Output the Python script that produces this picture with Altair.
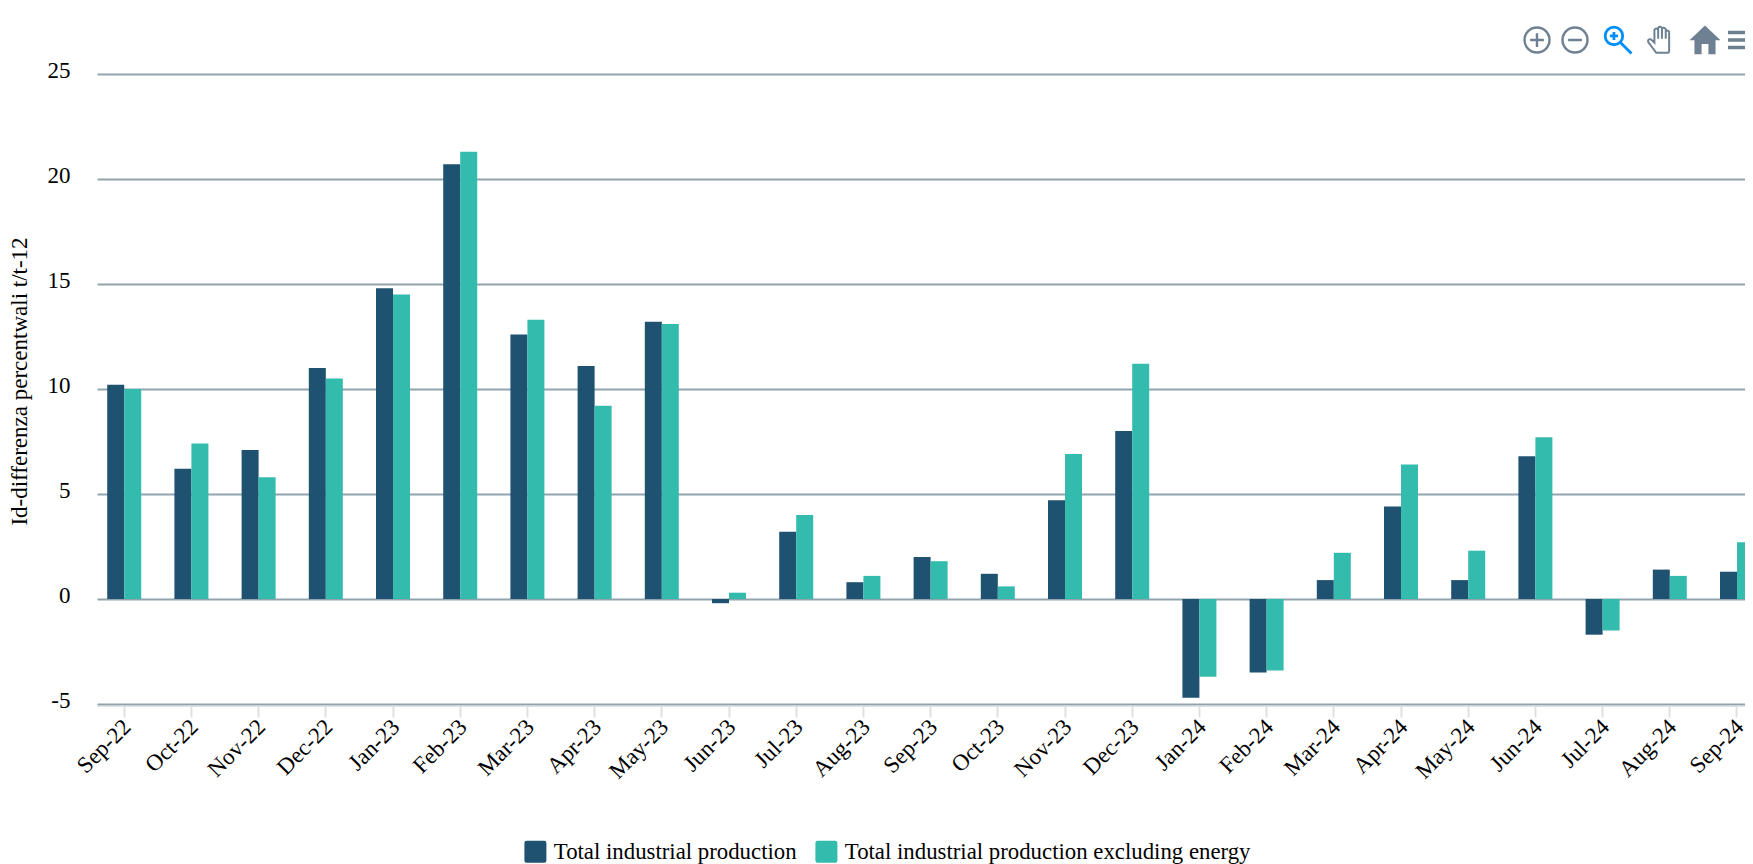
import altair as alt
import pandas as pd

months = ["Sep-22","Oct-22","Nov-22","Dec-22","Jan-23","Feb-23","Mar-23","Apr-23","May-23","Jun-23","Jul-23","Aug-23",
          "Sep-23","Oct-23","Nov-23","Dec-23","Jan-24","Feb-24","Mar-24","Apr-24","May-24","Jun-24","Jul-24","Aug-24","Sep-24"]
total = [10.2,6.2,7.1,11.0,14.8,20.7,12.6,11.1,13.2,-0.2,3.2,0.8,2.0,1.2,4.7,8.0,-4.7,-3.5,0.9,4.4,0.9,6.8,-1.7,1.4,1.3]
excl = [10.0,7.4,5.8,10.5,14.5,21.3,13.3,9.2,13.1,0.3,4.0,1.1,1.8,0.6,6.9,11.2,-3.7,-3.4,2.2,6.4,2.3,7.7,-1.5,1.1,2.7]
series = ["Total industrial production", "Total industrial production excluding energy"]
colors = ["#1F5270", "#33BBAD"]
y_ticks = [-5, 0, 5, 10, 15, 20, 25]

rows = []
for m, a, b in zip(months, total, excl):
    rows.append({"month": m, "series": series[0], "value": a})
    rows.append({"month": m, "series": series[1], "value": b})
df = pd.DataFrame(rows)

FONT = "Liberation Serif"
FS = 23
rounded = "M-0.8,-1 L0.8,-1 Q1,-1 1,-0.8 L1,0.8 Q1,1 0.8,1 L-0.8,1 Q-1,1 -1,0.8 L-1,-0.8 Q-1,-1 -0.8,-1 Z"

bars = alt.Chart(df).mark_bar().encode(
    x=alt.X("month:N", sort=months, title=None,
            scale=alt.Scale(paddingInner=0.494, paddingOuter=0.076, align=1, range=[0, 1657]),
            axis=alt.Axis(labelAngle=-45, labelAlign="right", labelBaseline="middle", labelFont=FONT,
                          labelFontSize=FS, labelColor="#000000", labelPadding=6, labelOffset=3, labelOverlap=False,
                          tickColor="#e0e0e0", tickWidth=2, tickSize=11, domainColor="#e0e0e0",
                          domainWidth=1, offset=2, grid=False)),
    xOffset=alt.XOffset("series:N", sort=series, scale=alt.Scale(paddingInner=0, paddingOuter=0)),
    y=alt.Y("value:Q", title="Id-differenza percentwali t/t-12",
            scale=alt.Scale(domain=[-5, 25], nice=False, zero=False),
            axis=alt.Axis(values=y_ticks, labelExpr="'' + datum.value", labelFont=FONT, labelFontSize=FS, labelColor="#000000",
                          labelPadding=27, labelOffset=-4, ticks=False, domain=False,
                          grid=True, gridColor="#90A4AE", gridWidth=2,
                          titleFont=FONT, titleFontSize=23, titleFontWeight="normal", titleColor="#000000",
                          titleBaseline="alphabetic", titleX=-71, titleY=307)),
    color=alt.Color("series:N", sort=series, scale=alt.Scale(domain=series, range=colors),
                    legend=alt.Legend(title=None, orient="none", legendX=427, legendY=766, direction="horizontal",
                                      symbolType=rounded, symbolSize=484, symbolStrokeWidth=0,
                                      labelFont=FONT, labelFontSize=22.8, labelColor="#000000",
                                      labelOffset=7, columnPadding=18, labelLimit=600)),
)

GREY = "#6E8192"
plus = "M-1,0 A1,1 0 1,1 1,0 A1,1 0 1,1 -1,0 Z M-0.55,0 L0.55,0 M0,-0.55 L0,0.55"
minus = "M-1,0 A1,1 0 1,1 1,0 A1,1 0 1,1 -1,0 Z M-0.55,0 L0.55,0"
zoom_i = "M-0.95,-0.3 A0.65,0.65 0 1,1 0.35,-0.3 A0.65,0.65 0 1,1 -0.95,-0.3 Z M0.2,0.2 L1,1 M-0.3,-0.6 L-0.3,0 M-0.6,-0.3 L0,-0.3"
hand = ("M-0.2,0.95 L0.65,0.95 Q0.75,0.95 0.75,0.8 L0.75,-0.6 Q0.62,-0.8 0.5,-0.6 L0.5,-0.1 L0.5,-0.8 Q0.35,-1 0.22,-0.8 "
        "L0.22,-0.1 L0.22,-0.9 Q0.08,-1.05 -0.06,-0.9 L-0.06,-0.1 L-0.06,-0.75 Q-0.2,-0.95 -0.34,-0.75 L-0.34,0.2 "
        "L-0.6,-0.05 Q-0.85,-0.1 -0.8,0.15 Z")
home = "M0,-1 L1,-0.05 L0.68,-0.05 L0.68,0.85 L0.22,0.85 L0.22,0.2 L-0.22,0.2 L-0.22,0.85 L-0.68,0.85 L-0.68,-0.05 L-1,-0.05 Z"
menu = "M-1,-0.62 L1,-0.62 L1,-0.38 L-1,-0.38 Z M-1,-0.12 L1,-0.12 L1,0.12 L-1,0.12 Z M-1,0.38 L1,0.38 L1,0.62 L-1,0.62 Z"

def icon(path, px, py, diam, fill=None, stroke=None, sw=2.2):
    kw = {"shape": path, "size": diam * diam, "filled": fill is not None, "opacity": 1}
    if fill is not None:
        kw["fill"] = fill
        kw["strokeWidth"] = 0
    else:
        kw["stroke"] = stroke
        kw["strokeWidth"] = sw
    return alt.Chart(pd.DataFrame({"k": [1]})).mark_point(**kw).encode(x=alt.value(px - 97), y=alt.value(py - 74))

icons = [
    icon(plus, 1537, 40, 25, stroke=GREY, sw=2.4),
    icon(minus, 1575, 40, 25, stroke=GREY, sw=2.4),
    icon(zoom_i, 1618, 40, 27, stroke="#008FFB", sw=2.8),
    icon(hand, 1659, 40, 27, stroke=GREY, sw=2.0),
    icon(home, 1705, 41, 31, fill=GREY),
    icon(menu, 1743, 40, 30, fill=GREY),
]

chart = alt.layer(bars, *icons).resolve_scale(color="independent").properties(
    width=1648, height=630,
    padding={"left": 89, "top": 66, "right": 0, "bottom": 160},
    autosize=alt.AutoSizeParams(type="none", contains="content"),
    background="#ffffff",
).configure_view(stroke=None)

chart.save("out.html", embed_options={"renderer": "svg", "actions": False})
